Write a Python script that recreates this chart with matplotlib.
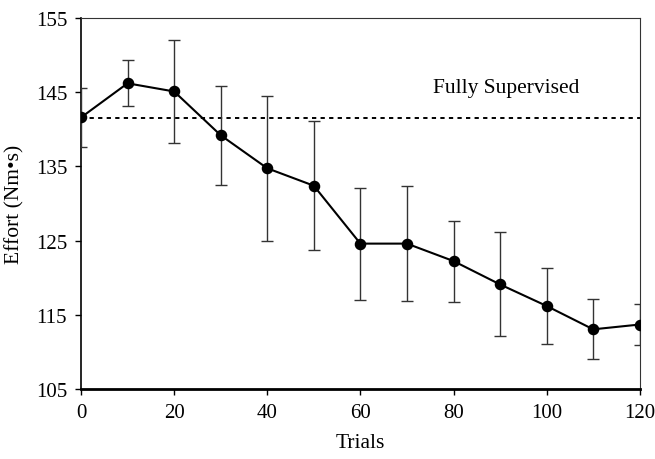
import matplotlib
matplotlib.use("Agg")
import matplotlib.pyplot as plt

trials = [0, 10, 20, 30, 40, 50, 60, 70, 80, 90, 100, 110, 120]
effort = [141.6, 146.2, 145.1, 139.2, 134.75, 132.4, 124.6, 124.6, 122.25, 119.1, 116.2, 113.05, 113.7]
err = [4.0, 3.1, 7.0, 6.7, 9.75, 8.7, 7.55, 7.7, 5.45, 7.0, 5.1, 4.05, 2.75]
supervised = 141.5
xticks = [0, 20, 40, 60, 80, 100, 120]
yticks = [105, 115, 125, 135, 145, 155]

plt.rcParams['font.family'] = ['Liberation Serif', 'DejaVu Serif']
fig = plt.figure(figsize=(6.55, 4.6), dpi=100)
ax = fig.add_axes([0.1237, 0.152, 0.853, 0.8067])

ax.plot([trials[0], trials[-1]], [supervised, supervised], color='black',
        linestyle=(0, (2.2, 2.2)), linewidth=1.4, zorder=2)
ax.errorbar(trials, effort, yerr=err, fmt='none', ecolor='#333333',
            elinewidth=1.0, capsize=4.5, capthick=1.0, zorder=3)
ax.plot(trials, effort, color='black', linewidth=1.5, marker='o',
        markersize=7.3, zorder=4)

ax.text(91.4, 145.6, 'Fully Supervised', ha='center', va='center', fontsize=15.5)

ax.set_xlim(0, 120)
ax.set_ylim(105, 155)
ax.set_xticks(xticks)
ax.set_yticks(yticks)
ax.tick_params(axis='both', direction='out', length=4, width=1, labelsize=15, pad=6)
ax.set_xlabel('Trials', fontsize=15.5, labelpad=8)
ax.set_ylabel('Effort (Nm•s)', fontsize=15.5, labelpad=8)

ax.spines['left'].set_linewidth(1.2)
ax.spines['bottom'].set_linewidth(2.0)
ax.spines['top'].set_linewidth(0.8)
ax.spines['right'].set_linewidth(0.8)
ax.spines['top'].set_color('#333333')
ax.spines['right'].set_color('#333333')

fig.savefig('out.png', dpi=100)
